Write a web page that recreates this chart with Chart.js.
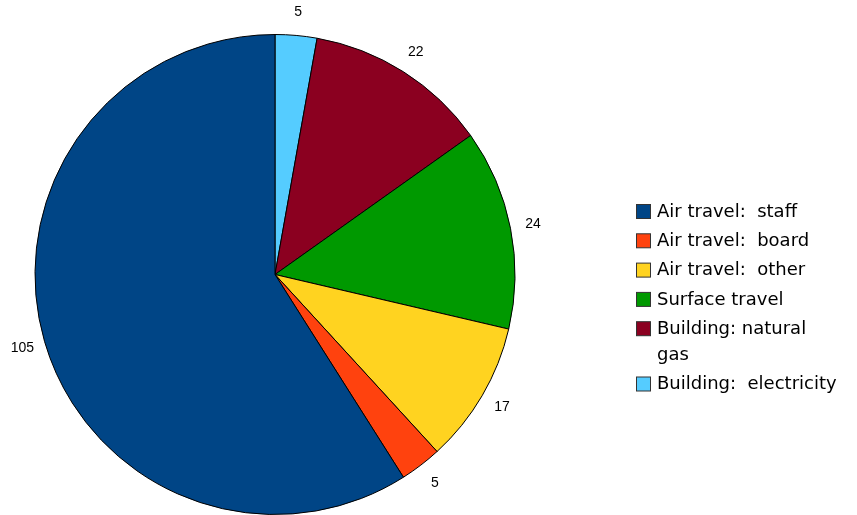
<!DOCTYPE html>
<html>
<head>
<meta charset="utf-8">
<script src="https://cdn.jsdelivr.net/npm/chart.js@4"></script>
<style>
  html, body { margin: 0; padding: 0; background: #fff; }
  #wrap { width: 857px; height: 515px; position: relative; }
</style>
</head>
<body>
<div id="wrap"><canvas id="pieChart"></canvas></div>
<script>
// data in drawing order (clockwise from 12 o'clock)
const categories = ["Building:  electricity", "Building: natural gas", "Surface travel", "Air travel:  other", "Air travel:  board", "Air travel:  staff"];
const legendLines = [["Building:  electricity"], ["Building: natural", "gas"], ["Surface travel"], ["Air travel:  other"], ["Air travel:  board"], ["Air travel:  staff"]];
const values = [5, 22, 24, 17, 5, 105];
const colors = ["#55ccff", "#8b0020", "#009900", "#ffd320", "#ff420e", "#004586"];

// values outside each slice
const outsideLabels = {
  id: "outsideLabels",
  afterDatasetsDraw(chart) {
    const ctx = chart.ctx;
    const meta = chart.getDatasetMeta(0);
    ctx.save();
    ctx.font = "14px 'Liberation Sans'";
    ctx.fillStyle = "#000";
    ctx.textAlign = "center";
    ctx.textBaseline = "middle";
    meta.data.forEach(function (arc, i) {
      const mid = (arc.startAngle + arc.endAngle) / 2;
      const r = arc.outerRadius + 23;
      ctx.fillText(String(values[i]), arc.x + Math.cos(mid) * r, arc.y + Math.sin(mid) * r);
    });
    ctx.restore();
  }
};

// legend on the right, reversed order, wrapped text
const sideLegend = {
  id: "sideLegend",
  afterDraw(chart) {
    const ctx = chart.ctx;
    ctx.save();
    ctx.font = "18px 'DejaVu Sans'";
    ctx.textBaseline = "middle";
    ctx.textAlign = "left";
    let y = 212;
    for (let i = categories.length - 1; i >= 0; i--) {
      ctx.fillStyle = colors[i];
      ctx.fillRect(636.5, y - 7.5, 14, 14);
      ctx.strokeStyle = "#333";
      ctx.lineWidth = 1;
      ctx.strokeRect(636.5, y - 7.5, 14, 14);
      ctx.fillStyle = "#000";
      legendLines[i].forEach(function (line, k) {
        ctx.fillText(line, 657, y + k * 26);
      });
      y += 29.3 + (legendLines[i].length - 1) * 26;
    }
    ctx.restore();
  }
};

new Chart(document.getElementById("pieChart"), {
  type: "pie",
  data: {
    labels: categories,
    datasets: [{
      data: values,
      backgroundColor: colors,
      borderColor: "#000",
      borderWidth: 1
    }]
  },
  options: {
    responsive: true,
    maintainAspectRatio: false,
    animation: false,
    layout: { padding: { left: 34, top: 34, right: 341, bottom: 0 } },
    plugins: {
      legend: { display: false },
      tooltip: { enabled: false }
    }
  },
  plugins: [outsideLabels, sideLegend]
});
</script>
</body>
</html>
